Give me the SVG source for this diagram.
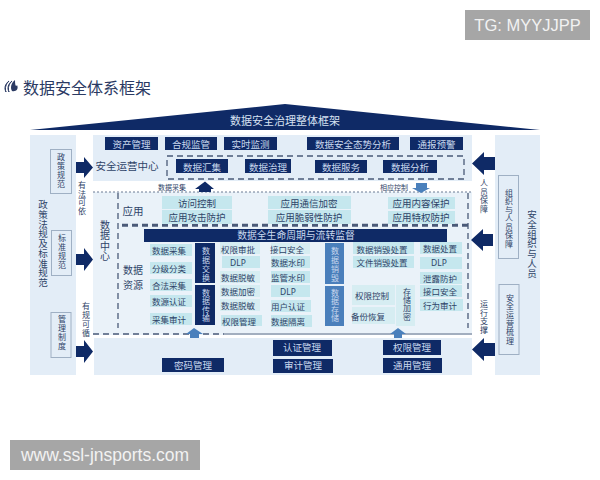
<svg xmlns="http://www.w3.org/2000/svg" width="600" height="480" viewBox="0 0 600 480">
<style>
text{font-family:"Noto Sans CJK SC","Noto Sans",sans-serif;text-anchor:middle;dominant-baseline:central;fill:#2f4468}
.panel{fill:#e3edf7}
.navy{fill:#0f2a66}
.blue{fill:#4a7fbb}
.cy{fill:#c5e7ee}
.cy2{fill:#d6edf2}
.sub{fill:#e3edf7;stroke:#9fb0c4;stroke-width:1}
.dash{fill:none;stroke:#4a5a78;stroke-width:1.3;stroke-dasharray:6 4}
.dot{fill:none;stroke:#6a7a94;stroke-width:1;stroke-dasharray:2 2}
.w{fill:#c9d8ee}
.t9{font-size:9.5px}
.t8{font-size:8.5px}
.vs{font-size:8px}
.t10{font-size:10.5px}
.t7{font-size:7px}
.hd{fill:#0f2a66}
.ha{fill:#4a80bc}
.wm{fill:#a6a6a6}
.wt{fill:#f2f2f2;font-family:"Liberation Sans",Arial,sans-serif}
</style>
<g id="title">
<path d="M9 81C5 84 4 88 6 92C4.500 88 6 84 9 81ZM12 81C8 84 7 88 9 92C7.500 88 9 84 12 81Z" fill="none" stroke="#2b3a63" stroke-width="1"/>
<path d="M15 80C11 83 10 88 12 91C16 92 19 89 17 85C16 87 15 86 15 80Z" fill="#2b3a63"/>
<text x="87" y="87" font-size="16" style="fill:#2b3a63">数据安全体系框架</text>
</g>
<g id="roof"><polygon class="navy" points="30,130 285,104 540,130"/><text x="285" y="120" style="fill:#d7e2f2;font-size:11px">数据安全治理整体框架</text></g>
<g id="left-panel"><rect class="panel" x="30" y="135" width="46" height="240"/><text x="43 43 43 43 43 43 43 43 43" y="204 214 224 233 243 253 263 272 282" style="font-size:9.500px">政策法规及标准规范</text></g>
<g id="right-panel"><rect class="panel" x="495" y="135" width="45" height="240"/><text x="532 532 532 532 532 532 532" y="214 224 234 243 253 263 273" style="font-size:9.500px">安全组织与人员</text></g>
<g id="top-block"><rect class="panel" x="93" y="135" width="379" height="46"/><text x="127" y="165" style="font-size:10.500px">安全运营中心</text></g>
<rect class="panel" x="93" y="192" width="379" height="143" opacity=".75"/>
<g id="bottom-block"><rect class="panel" x="94" y="338" width="378" height="37"/></g>
<rect class="dash" x="167" y="156" width="297" height="23"/>
<path class="dot" d="M93 192H472"/>
<path class="dash" d="M118 193V328M468 193V328M122 226H468M122 224.500H468"/>
<path class="dash" d="M93 334H224"/><path d="M224 334H472" fill="none" stroke="#5a6a86" stroke-width="1.200"/>

<g id="connectors">
<polygon class="hd" points="76,162 84,162 84,157 93,167.500 84,178 84,173 76,173"/>
<polygon class="hd" points="76,254 84,254 84,248 93,259.500 84,271 84,265 76,265"/>
<polygon class="hd" points="76,346 84,346 84,340 93,351.500 84,363 84,357 76,357"/>
<polygon class="hd" points="495,157 484,157 484,152 472,163.500 484,175 484,170 495,170"/>
<polygon class="hd" points="493,234 483,234 483,229 471,240 483,251 483,246 493,246"/>
<polygon class="hd" points="495,343 484,343 484,338 472,349.500 484,361 484,356 495,356"/>
<polygon class="hd" points="199,192 199,189 195,189 205,181.500 214,189 211,189 211,192"/>
<polygon class="ha" points="416,183 427,183 427,188 430,188 421,193 412,188 416,188"/>
<polygon class="ha" points="190,338 190,334 186,334 194,328 203,334 199,334 199,338"/>
<polygon class="ha" points="394,338 394,334 390,334 398,328 406,334 402,334 402,338"/>
</g>

<g id="n-policy"><rect class="sub" x="50.500" y="149.500" width="21" height="44"/><text class="vs" x="61 61 61 61" y="156 165 174 183">政策规范</text></g>
<g id="n-standard"><rect class="sub" x="51.500" y="230.500" width="20" height="45"/><text class="vs" x="62 62 62 62" y="237 246 255 264">标准规范</text></g>
<g id="n-mgmt"><rect class="sub" x="51" y="312.500" width="20" height="45"/><text class="vs" x="62 62 62 62" y="318 327 336 345">管理制度</text></g>
<g id="n-org"><rect class="sub" x="498.500" y="175.500" width="20" height="83"/><text class="vs" x="509 509 509 509 509 509 509" y="192 200.500 209 217.500 226 234.500 243">组织与人员保障</text></g>
<g id="n-ops"><rect class="sub" x="499" y="284.500" width="20" height="70"/><text class="vs" x="510 510 510 510 510 510" y="297 305.500 314 323 331.500 340">安全运营梳理</text></g>

<g id="labels-side">
<text class="vs" x="82 82 82 82" y="184 193 201.500 210">有法可依</text>
<text class="vs" x="86 86 86 86" y="305 314 323 332">有规可循</text>
<text class="vs" x="484 484 484 484" y="182 191 199.500 208">人员保障</text>
<text class="vs" x="484 484 484 484" y="303 312 320.500 329">运行支撑</text>
<text x="105 105 105 105" y="224 234 245 255" style="font-size:10px">数据中心</text>
<text x="133" y="210" class="t10">应用</text>
<text x="133" y="269" style="font-size:10px">数据</text>
<text x="133" y="284" style="font-size:10px">资源</text>
<text x="172" y="187" class="t7">数据采集</text>
<text x="394" y="187" class="t7">相应控制</text>
</g>

<g id="top-row">
<g id="n1"><rect class="navy" x="105" y="137" width="53" height="13"/><text class="w t9" x="131.500" y="144">资产管理</text></g>
<g id="n2"><rect class="navy" x="165" y="137" width="52" height="13"/><text class="w t9" x="191" y="144">合规监管</text></g>
<g id="n3"><rect class="navy" x="224" y="137" width="53" height="13"/><text class="w t9" x="250.500" y="144">实时监测</text></g>
<g id="n4"><rect class="navy" x="307" y="137" width="92" height="13"/><text class="w t9" x="353" y="144">数据安全态势分析</text></g>
<g id="n5"><rect class="navy" x="410" y="137" width="53" height="13"/><text class="w t9" x="436.500" y="144">通报预警</text></g>
<g id="n6"><rect class="navy" x="176" y="159" width="52" height="14"/><text class="w t9" x="202" y="167">数据汇集</text></g>
<g id="n7"><rect class="navy" x="245" y="159" width="46" height="14"/><text class="w t9" x="268" y="166.500">数据治理</text></g>
<g id="n8"><rect class="navy" x="315" y="160" width="52" height="13"/><text class="w t9" x="341" y="167">数据服务</text></g>
<g id="n9"><rect class="navy" x="383" y="160" width="54" height="13"/><text class="w t9" x="410" y="167">数据分析</text></g>
</g>

<g id="app-row">
<g id="a1"><rect class="cy" x="162" y="196" width="70" height="13"/><text class="t9" x="197" y="202.500">访问控制</text></g>
<g id="a2"><rect class="cy" x="162" y="210" width="70" height="14"/><text class="t9" x="197" y="217">应用攻击防护</text></g>
<g id="a3"><rect class="cy" x="268" y="196" width="83" height="13"/><text class="t9" x="309" y="202.500">应用通信加密</text></g>
<g id="a4"><rect class="cy" x="268" y="210" width="83" height="14"/><text class="t9" x="309" y="217">应用脆弱性防护</text></g>
<g id="a5"><rect class="cy" x="388" y="197" width="67" height="12"/><text class="t9" x="421" y="203">应用内容保护</text></g>
<g id="a6"><rect class="cy" x="388" y="211" width="67" height="13"/><text class="t9" x="421" y="217">应用特权防护</text></g>
</g>

<g id="n-banner"><rect class="navy" x="144" y="229" width="303" height="13"/><text class="w" x="296" y="235" style="font-size:9.800px">数据全生命周期与流转监督</text></g>

<g id="col1">
<g id="c1a"><rect class="cy" x="150" y="244" width="42" height="12"/><text class="t8" x="169" y="250">数据采集</text></g>
<g id="c1b"><rect class="cy" x="150" y="262" width="42" height="12"/><text class="t8" x="169" y="268">分级分类</text></g>
<g id="c1c"><rect class="cy" x="150" y="279" width="42" height="12"/><text class="t8" x="169" y="285">合法采集</text></g>
<g id="c1d"><rect class="cy" x="150" y="295" width="42" height="12"/><text class="t8" x="169" y="301">数源认证</text></g>
<g id="c1e"><rect class="cy" x="150" y="313" width="42" height="12"/><text class="t8" x="169" y="319">采集审计</text></g>
</g>
<g id="v1"><rect class="navy" x="195" y="243" width="20" height="40"/><text class="w vs" x="206 206 206 206" y="250 259.500 268.500 277">数据交换</text></g>
<g id="v2"><rect class="navy" x="195" y="285" width="20" height="40"/><text class="w vs" x="206 206 206 206" y="292 300.500 309 317.500">数据传输</text></g>
<g id="col2">
<g id="c2a"><rect class="cy2" x="220" y="242" width="40" height="12"/><text class="t8" x="238" y="248.500">权限审批</text></g>
<g id="c2b"><rect class="cy" x="222" y="256" width="38" height="12"/><text class="t8" x="238" y="262" style="font-family:'Noto Sans',sans-serif">DLP</text></g>
<g id="c2c"><rect class="cy2" x="220" y="271" width="40" height="12"/><text class="t8" x="238" y="277">数据脱敏</text></g>
<g id="c2d"><rect class="cy2" x="220" y="285" width="40" height="12"/><text class="t8" x="238" y="291">数据加密</text></g>
<g id="c2e"><rect class="cy2" x="220" y="299" width="40" height="12"/><text class="t8" x="238" y="305">数据脱敏</text></g>
<g id="c2f"><rect class="cy" x="221" y="315" width="41" height="11"/><text class="t8" x="239" y="320.500">权限管理</text></g>
</g>
<g id="col3">
<g id="c3a"><rect class="cy2" x="271" y="243" width="39" height="11"/><text class="t8" x="287" y="248.500">接口安全</text></g>
<g id="c3b"><rect class="cy" x="271" y="256" width="39" height="12"/><text class="t8" x="288" y="262">数据水印</text></g>
<g id="c3c"><rect class="cy" x="271" y="271" width="39" height="12"/><text class="t8" x="288" y="277">监管水印</text></g>
<g id="c3d"><rect class="cy" x="271" y="285" width="39" height="12"/><text class="t8" x="288" y="291" style="font-family:'Noto Sans',sans-serif">DLP</text></g>
<g id="c3e"><rect class="cy" x="271" y="300" width="40" height="12"/><text class="t8" x="288" y="306">用户认证</text></g>
<g id="c3f"><rect class="cy" x="271" y="315" width="41" height="12"/><text class="t8" x="288" y="321">数据隔离</text></g>
</g>
<g id="v3"><rect class="blue" x="325" y="243" width="19" height="41"/><text class="w vs" x="335 335 335 335" y="250 259 268 277">数据销毁</text></g>
<g id="v4"><rect class="blue" x="325" y="286" width="19" height="40"/><text class="w vs" x="335 335 335 335" y="292 300.500 309 317.500">数据存储</text></g>
<g id="col4">
<g id="c4a"><rect class="cy" x="353" y="242" width="61" height="12"/><text class="t8" x="382" y="248.500">数据销毁处置</text></g>
<g id="c4b"><rect class="cy" x="353" y="256" width="61" height="12"/><text class="t8" x="382" y="262">文件销毁处置</text></g>
<g id="c4c"><rect class="cy2" x="352" y="285" width="43" height="20"/><text class="t8" x="372" y="295">权限控制</text></g>
<g id="c4d"><rect class="cy2" x="352" y="307" width="43" height="17"/><text class="t8" x="368" y="315.500">备份恢复</text></g>
<g id="c4e"><rect class="cy2" x="396" y="285" width="19" height="41"/><text class="vs" x="407 407 407 407" y="291 299.500 307.500 316">存储加密</text></g>
</g>
<g id="col5">
<g id="c5a"><rect class="cy" x="420" y="242" width="42" height="12"/><text class="t8" x="440" y="248">数据处置</text></g>
<g id="c5b"><rect class="cy" x="420" y="257" width="42" height="12"/><text class="t8" x="439" y="262.500" style="font-family:'Noto Sans',sans-serif">DLP</text></g>
<g id="c5c"><rect class="cy" x="420" y="272" width="42" height="12"/><text class="t8" x="440" y="277.500">泄露防护</text></g>
<g id="c5d"><rect class="cy" x="420" y="285" width="42" height="12"/><text class="t8" x="440" y="291">接口安全</text></g>
<g id="c5e"><rect class="cy" x="420" y="299" width="43" height="12"/><text class="t8" x="440" y="305">行为审计</text></g>
</g>

<g id="bottom-row">
<g id="b1"><rect class="navy" x="162" y="358" width="62" height="14"/><text class="w t9" x="193" y="364.500">密码管理</text></g>
<g id="b2"><rect class="navy" x="273" y="340" width="59" height="16"/><text class="w t9" x="302" y="347">认证管理</text></g>
<g id="b3"><rect class="navy" x="273" y="359" width="60" height="14"/><text class="w t9" x="303" y="365">审计管理</text></g>
<g id="b4"><rect class="navy" x="383" y="340" width="58" height="15"/><text class="w t9" x="412" y="346.500">权限管理</text></g>
<g id="b5"><rect class="navy" x="383" y="358" width="59" height="15"/><text class="w t9" x="412" y="365">通用管理</text></g>
</g>

<g id="watermark-top"><rect class="wm" x="465" y="10" width="125" height="30"/><text class="wt" x="527.500" y="25" style="font-size:16.500px">TG: MYYJJPP</text></g>
<g id="watermark-bottom"><rect class="wm" x="10" y="440" width="190" height="30"/><text class="wt" x="105" y="455" style="font-size:17.500px">www.ssl-jnsports.com</text></g>
</svg>
